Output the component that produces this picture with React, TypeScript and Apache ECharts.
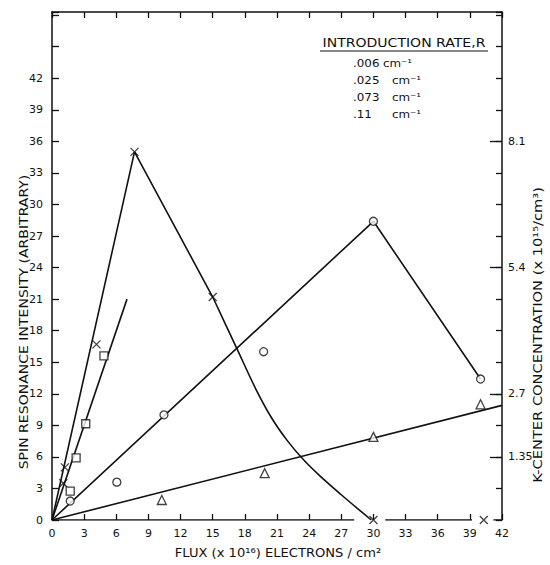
import React, { useEffect, useRef } from "react";
import * as echarts from "echarts";

// ---- data ----
const xMax = 42;
const yMax = 48.3;
const tickStep = 3;

// R = .006 cm-1 (x markers)
const crossPoints: number[][] = [[1.05, 3.5], [1.2, 5.0], [4.15, 16.7], [7.7, 35.0], [15.0, 21.2], [30, 0], [40.3, 0]];
const crossRise: number[][] = [[0, 0], [7.7, 35.0], [15, 21.2]];
const crossFall: number[][] = [[15, 21.2], [17.3, 16.2], [19, 12.5], [20.5, 9.7], [22, 7.5], [23.5, 5.7], [25, 4.2], [27, 2.4], [28.5, 1.1], [29.8, 0]];

// R = .025 cm-1 (squares)
const squarePoints: number[][] = [[1.7, 2.75], [2.25, 5.9], [3.15, 9.15], [4.85, 15.6]];
const squareFit: number[][] = [[0, 0], [7, 21.0]];

// R = .073 cm-1 (circles)
const circlePoints: number[][] = [[1.7, 1.8], [6.05, 3.6], [10.45, 10.0], [19.75, 16.0], [30, 28.4], [40, 13.4]];
const circleFit: number[][] = [[0, 0], [30, 28.4], [40, 13.4]];

// R = .11 cm-1 (triangles)
const trianglePoints: number[][] = [[10.25, 1.9], [19.85, 4.45], [30, 7.9], [40, 11.0]];
const triangleFit: number[][] = [[0, 0], [42, 10.9]];

// bottom axis line is drawn in pieces (broken around the x markers)
const bottomAxisSegments: number[][][] = [[[0, 0], [28.2, 0]], [[31.1, 0], [39.2, 0]], [[41.2, 0], [42, 0]]];

// right axis: K-center concentration (x10^15/cm^3)
const kCenterLabels = [1.35, 2.7, 5.4, 8.1];
const kPerIntensity = 0.225;

const legendTitle = "INTRODUCTION RATE,R";
const legendRates = [".006", ".025", ".073", ".11"];

const INK = "#111";
const FONT = "DejaVu Sans";

export default function App() {
  const ref = useRef<HTMLDivElement>(null);
  useEffect(() => {
    if (!ref.current) return;
    const chart = echarts.init(ref.current, null, { renderer: "svg" });
    const kPositions = kCenterLabels.map((v) => +(v / kPerIntensity).toFixed(6));
    const lineStyle = { color: INK, width: 1.6 };
    const fitSeries = (data: number[][], smooth = false) => ({
      type: "line",
      data,
      symbol: "none",
      smooth: smooth ? 0.3 : false,
      lineStyle,
      silent: true,
      z: 2,
    });
    const markSeries = (data: number[][], symbol: string, size: number) => ({
      type: "scatter",
      data,
      symbol,
      symbolSize: size,
      itemStyle: { color: "#fff", borderColor: INK, borderWidth: 1.3 },
      silent: true,
      z: 5,
    });
    const axisText = { color: INK, fontFamily: FONT, fontSize: 11 };
    const txt = (text: string, x: number, y: number, size: number, opts: any = {}) => ({
      type: "text",
      x,
      y,
      rotation: opts.rotation || 0,
      scaleX: opts.scaleX || 1,
      style: {
        text,
        fill: INK,
        fontFamily: FONT,
        fontSize: size,
        align: opts.align || "center",
        verticalAlign: "middle",
      },
    });
    const legendGraphics: any[] = [
      txt(legendTitle, 404, 43, 12, { scaleX: 1.17 }),
      { type: "line", shape: { x1: 320, y1: 51, x2: 488, y2: 51 }, style: { stroke: INK, lineWidth: 1.2 } },
    ];
    const legendY = [63, 80, 97, 114];
    const cmX = [383, 392, 392, 392];
    legendRates.forEach((r, i) => {
      legendGraphics.push(txt(r, 353, legendY[i], 11, { align: "left", scaleX: 1.08 }));
      legendGraphics.push(txt("cm\u207B\u00B9", cmX[i], legendY[i], 11, { align: "left", scaleX: 1.08 }));
    });

    chart.setOption({
      animation: false,
      backgroundColor: "#fff",
      grid: { left: 52, right: 48, top: 12, bottom: 45 },
      xAxis: [
        {
          type: "value",
          min: 0,
          max: xMax,
          interval: tickStep,
          position: "bottom",
          axisLine: { show: false, onZero: false },
          axisTick: { show: true, inside: true, length: 6, lineStyle: { color: INK, width: 1.3 } },
          axisLabel: { ...axisText, margin: 8 },
          splitLine: { show: false },
        },
        {
          type: "value",
          min: 0,
          max: xMax,
          interval: tickStep,
          position: "top",
          axisLine: { show: true, onZero: false, lineStyle: { color: INK, width: 1.5 } },
          axisTick: { show: true, inside: true, length: 6, lineStyle: { color: INK, width: 1.3 } },
          axisLabel: { show: false },
          splitLine: { show: false },
        },
      ],
      yAxis: [
        {
          type: "value",
          min: 0,
          max: yMax,
          interval: tickStep,
          position: "left",
          axisLine: { show: true, onZero: false, lineStyle: { color: INK, width: 1.5 } },
          axisTick: { show: true, inside: true, length: 7, lineStyle: { color: INK, width: 1.3 } },
          axisLabel: { ...axisText, margin: 9, formatter: (v: number) => (v <= 42 ? String(v) : "") },
          splitLine: { show: false },
        },
        {
          type: "value",
          min: 0,
          max: yMax,
          interval: tickStep,
          position: "right",
          axisLine: { show: true, onZero: false, lineStyle: { color: INK, width: 1.5 } },
          axisTick: { show: true, inside: true, length: 6, lineStyle: { color: INK, width: 1.3 } },
          axisLabel: { show: false },
          splitLine: { show: false },
        },
        {
          type: "value",
          min: 0,
          max: yMax,
          position: "right",
          axisLine: { show: false, onZero: false },
          axisTick: { show: true, inside: true, length: 12, customValues: kPositions, lineStyle: { color: INK, width: 1.3 } },
          axisLabel: {
            ...axisText,
            margin: 6,
            customValues: kPositions,
            formatter: (v: number) => String(+(v * kPerIntensity).toFixed(2)),
          },
          splitLine: { show: false },
        },
      ],
      series: [
        {
          type: "lines",
          coordinateSystem: "cartesian2d",
          data: bottomAxisSegments.map((s) => ({ coords: s })),
          lineStyle: { color: INK, width: 1.5, opacity: 1 },
          silent: true,
          z: 1,
        },
        fitSeries(crossRise),
        fitSeries(crossFall, true),
        fitSeries(squareFit),
        fitSeries(circleFit),
        fitSeries(triangleFit),
        {
          ...markSeries(crossPoints, "path://M0,0L10,10M10,0L0,10", 8),
          itemStyle: { color: "none", borderColor: INK, borderWidth: 1.3 },
        },
        markSeries(squarePoints, "rect", 8),
        markSeries(circlePoints, "circle", 8),
        markSeries(trianglePoints, "triangle", 9),
      ],
      graphic: [
        txt("SPIN RESONANCE INTENSITY (ARBITRARY)", 24, 322, 12, { rotation: Math.PI / 2, scaleX: 1.17 }),
        txt("FLUX (x 10\u00B9\u2076) ELECTRONS / cm\u00B2", 278, 553, 12, { scaleX: 1.09 }),
        txt("K-CENTER CONCENTRATION (x 10\u00B9\u2075/cm\u00B3)", 538, 335, 12, { rotation: Math.PI / 2, scaleX: 1.22 }),
        ...legendGraphics,
      ],
    });
    return () => chart.dispose();
  }, []);
  return <div ref={ref} style={{ position: "fixed", left: 0, top: 0, width: 550, height: 565 }} />;
}
